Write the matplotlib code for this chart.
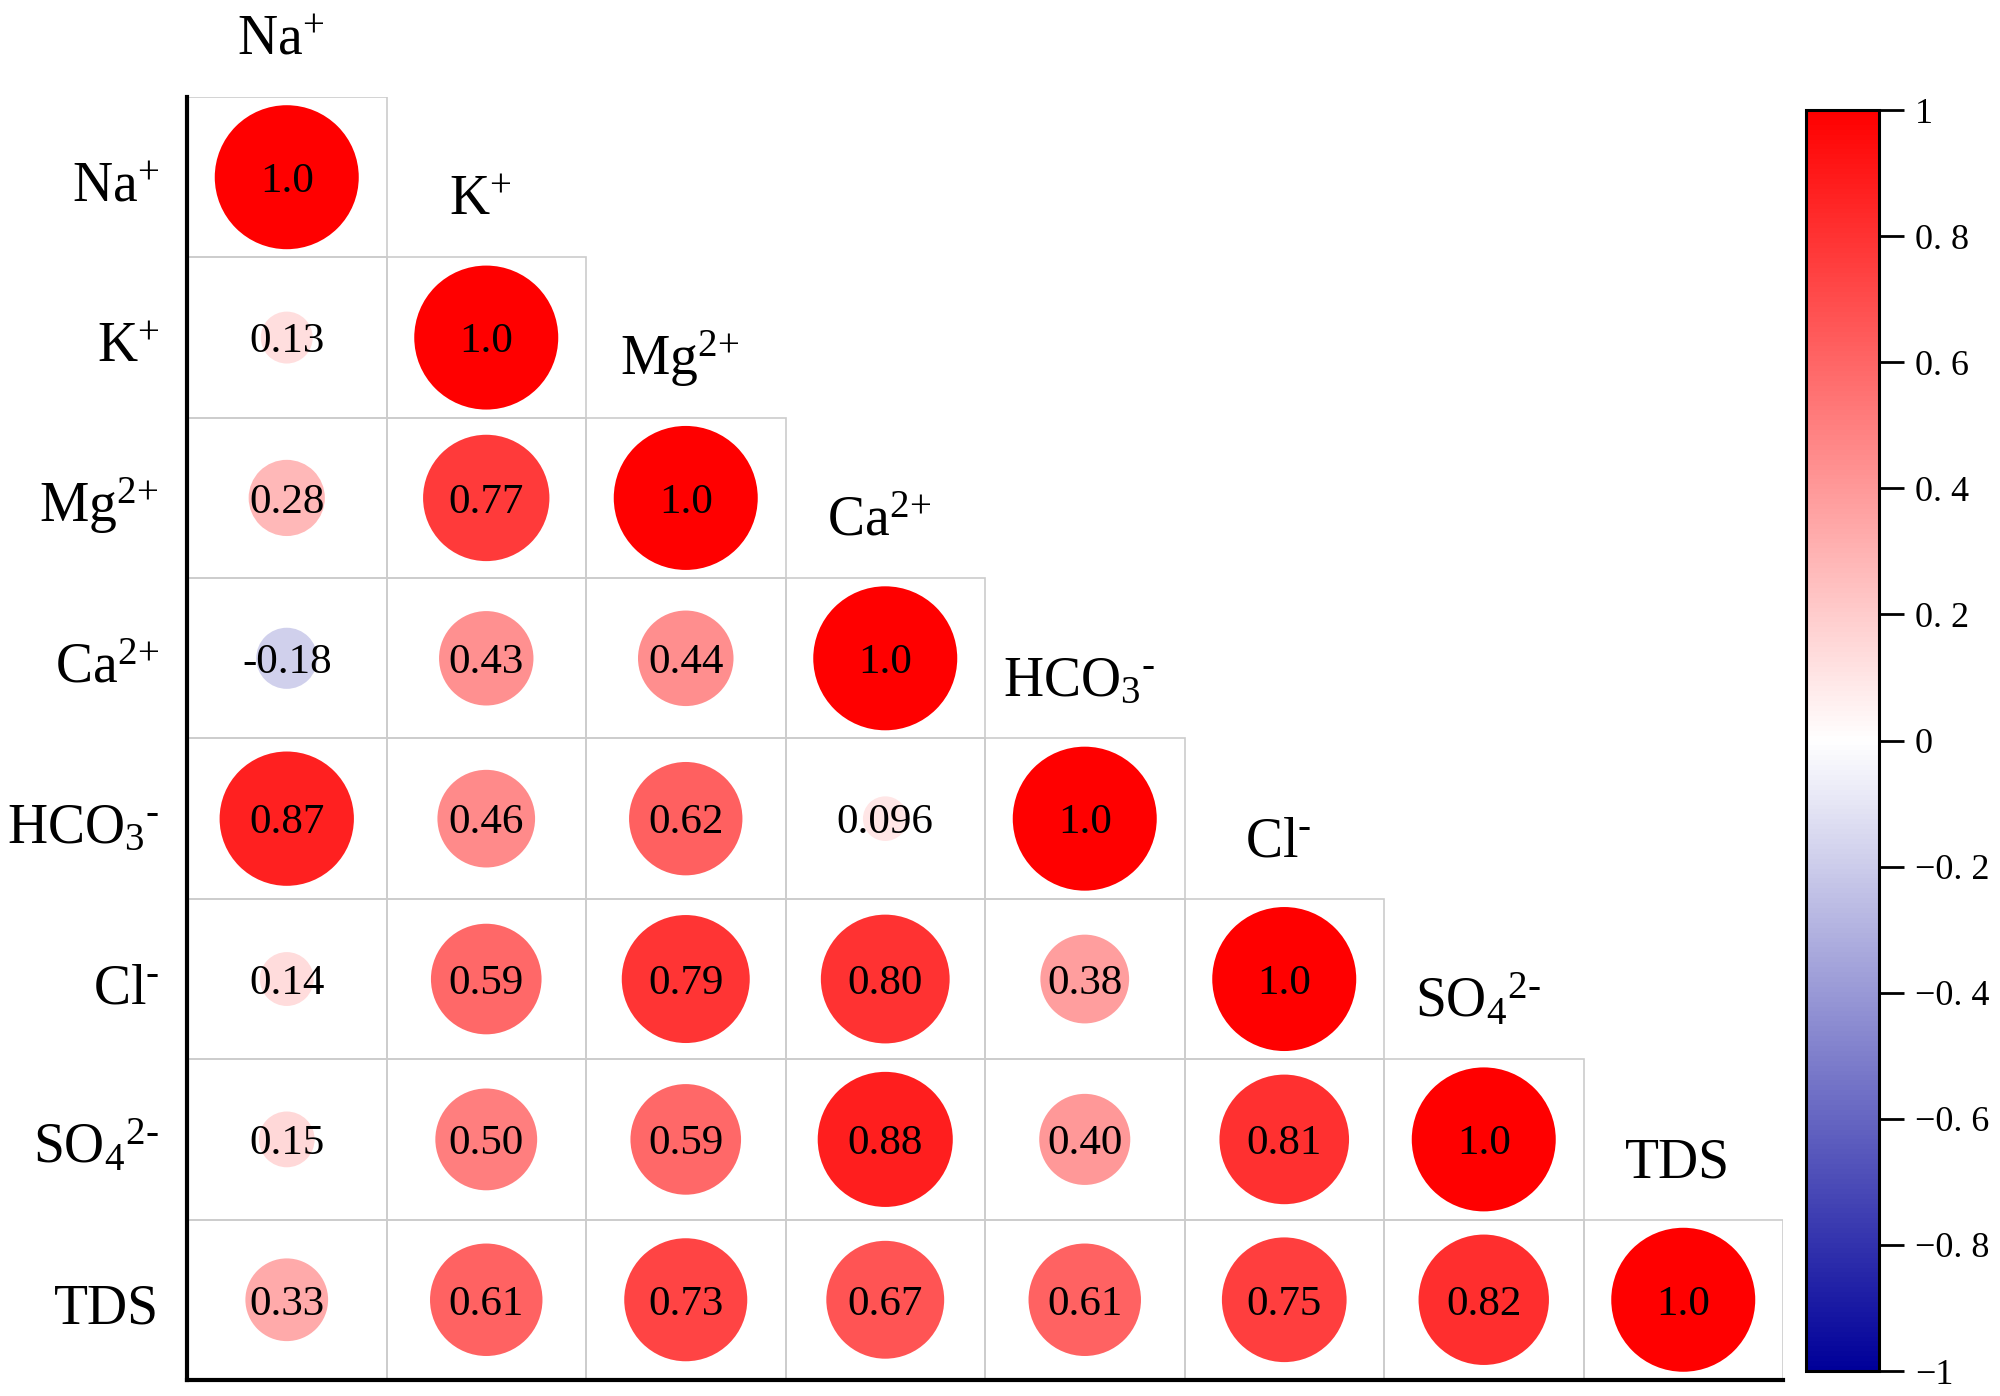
import numpy as np
import matplotlib
matplotlib.use("Agg")
import matplotlib.pyplot as plt
from matplotlib.colors import LinearSegmentedColormap, Normalize
from matplotlib.patches import Rectangle
from matplotlib.cm import ScalarMappable

plt.rcParams['font.family'] = ['Liberation Serif', 'DejaVu Serif']
plt.rcParams['mathtext.fontset'] = 'custom'
plt.rcParams['mathtext.rm'] = 'Liberation Serif'
plt.rcParams['mathtext.it'] = 'Liberation Serif:italic'
plt.rcParams['mathtext.bf'] = 'Liberation Serif:bold'

# ---- data ----
labels = [r'$\mathrm{Na^{+}}$', r'$\mathrm{K^{+}}$', r'$\mathrm{Mg^{2\!+}}$', r'$\mathrm{Ca^{2\!+}}$',
          '$\\mathrm{HCO_3{}^{\u2010}}$', '$\\mathrm{Cl^{\u2010}}$', '$\\mathrm{SO_4{}^{2\u2010}}$', 'TDS']

row_na = [1.0]
row_k = [0.13, 1.0]
row_mg = [0.28, 0.77, 1.0]
row_ca = [-0.18, 0.43, 0.44, 1.0]
row_hco3 = [0.87, 0.46, 0.62, 0.096, 1.0]
row_cl = [0.14, 0.59, 0.79, 0.80, 0.38, 1.0]
row_so4 = [0.15, 0.50, 0.59, 0.88, 0.40, 0.81, 1.0]
row_tds = [0.33, 0.61, 0.73, 0.67, 0.61, 0.75, 0.82, 1.0]
rows = [row_na, row_k, row_mg, row_ca, row_hco3, row_cl, row_so4, row_tds]

cbar_ticks = [-1, -0.8, -0.6, -0.4, -0.2, 0, 0.2, 0.4, 0.6, 0.8, 1]
cbar_ticklabels = ['\u22121', '\u22120. 8', '\u22120. 6', '\u22120. 4', '\u22120. 2', '0',
                   '0. 2', '0. 4', '0. 6', '0. 8', '1']

n = len(labels)

cmap = LinearSegmentedColormap.from_list('bwr2', ['#000099', '#ffffff', '#ff0000'], N=256)
norm = Normalize(-1, 1)


def fmt(v):
    if v == 1.0:
        return '1.0'
    if abs(v) < 0.1:
        return f'{v:.3f}'
    return f'{v:.2f}'


fig = plt.figure(figsize=(20, 13.96), dpi=100)
ax = fig.add_axes([0.0935, 0.0115, 0.798, 0.919])
ax.set_xlim(-0.5, n - 0.5)
ax.set_ylim(n - 0.5, -0.5)

# cells
for i, row in enumerate(rows):
    for j, v in enumerate(row):
        ax.add_patch(Rectangle((j - 0.5, i - 0.5), 1, 1, facecolor='none',
                               edgecolor='#cccccc', linewidth=1.2, zorder=1))

xs, ys, vs = [], [], []
for i, row in enumerate(rows):
    for j, v in enumerate(row):
        xs.append(j)
        ys.append(i)
        vs.append(v)
xs = np.array(xs); ys = np.array(ys); vs = np.array(vs)
smax = 10750
ax.scatter(xs, ys, s=smax * np.abs(vs), c=vs, cmap=cmap, norm=norm,
           linewidths=0, zorder=2)

for x, y, v in zip(xs, ys, vs):
    ax.text(x, y, fmt(v), ha='center', va='center_baseline', fontsize=31,
            color='black', zorder=3)

# column labels above diagonal
for i, lab in enumerate(labels):
    ax.text(i - 0.03, i - 1 + 0.235, lab, ha='center', va='baseline', fontsize=40,
            clip_on=False, zorder=3)

# row labels
for i, lab in enumerate(labels):
    ax.text(-0.5 - 0.14, i + 0.15, lab, ha='right', va='baseline', fontsize=40,
            clip_on=False, zorder=3)

ax.set_xticks([])
ax.set_yticks([])
for s in ['top', 'right']:
    ax.spines[s].set_visible(False)
for s in ['left', 'bottom']:
    ax.spines[s].set_linewidth(3)
    ax.spines[s].set_color('black')

# colorbar
cax = fig.add_axes([0.903, 0.0179, 0.0365, 0.9033])
sm = ScalarMappable(norm=norm, cmap=cmap)
cb = fig.colorbar(sm, cax=cax, ticks=cbar_ticks)
cb.ax.set_yticklabels(cbar_ticklabels)
cb.outline.set_linewidth(2.2)
cb.ax.tick_params(length=18, width=2, labelsize=26, pad=8)

fig.savefig('out.png', dpi=100, facecolor='white')
